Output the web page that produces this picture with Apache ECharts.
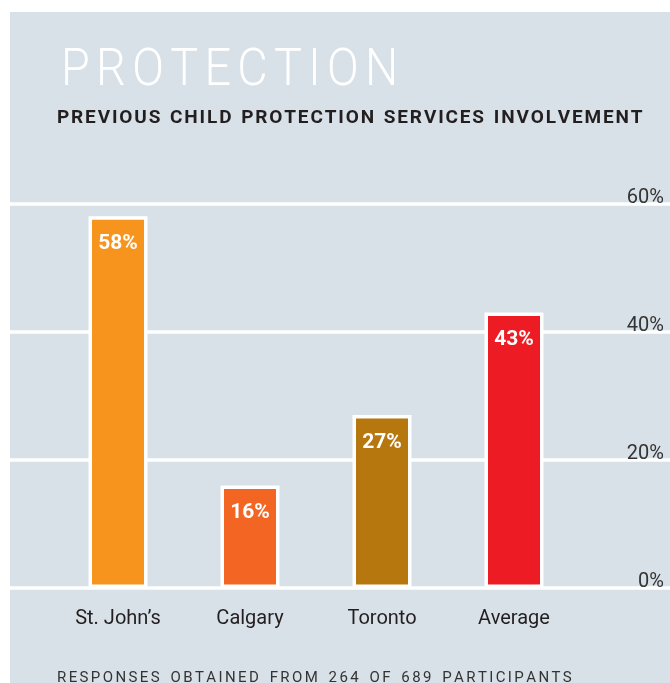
<!DOCTYPE html>
<html>
<head>
<meta charset="utf-8">
<script src="https://cdn.jsdelivr.net/npm/echarts@6/dist/echarts.min.js"></script>
<style>
  html, body { margin: 0; padding: 0; background: #fff; }
  #chart { width: 670px; height: 683px; }
</style>
</head>
<body>
<div id="chart"></div>
<script>
const cities = ["St. John\u2019s", "Calgary", "Toronto", "Average"];
const shares = [58, 16, 27, 43];
const barColors = ["#f7941d", "#f26522", "#b7770f", "#ed1c24"];
const tickValues = [0, 20, 40, 60];

const titleText = "PROTECTION";
const subtitleText = "PREVIOUS CHILD PROTECTION SERVICES INVOLVEMENT";
const footerText = "RESPONSES OBTAINED FROM 264 OF 689 PARTICIPANTS";

// letter spacing through rich text: every glyph followed by a fixed-width gap
function spaced(str) {
  return str
    .split("")
    .map(function (c) {
      return c === " " ? "{w| }" : "{a|" + c + "}";
    })
    .join("{s| }");
}

function richStyle(font, weight, size, color, gap, word) {
  return {
    a: {
      fontFamily: font,
      fontWeight: weight,
      fontSize: size,
      fill: color,
      color: color,
    },
    s: { fontSize: size, width: gap },
    w: { fontSize: size, width: word },
  };
}

const container = document.getElementById("chart");
let myChart = echarts.init(container),
  option;

const font = "Roboto";

option = {
  backgroundColor: "#ffffff",
  animation: false,
  graphic: [
    {
      type: "rect",
      x: 10,
      y: 12,
      shape: { width: 660, height: 671 },
      style: { fill: "#d8e1e8" },
      z: -10,
    },
    {
      type: "text",
      x: 61,
      y: 46,
      scaleX: 0.9,
      style: {
        text: spaced(titleText),
        rich: richStyle(font, 300, 52, "#ffffff", 7, 14),
        fill: "#ffffff",
        textVerticalAlign: "top",
      },
    },
    {
      type: "text",
      x: 57,
      y: 109,
      style: {
        text: spaced(subtitleText),
        rich: richStyle(font, "bold", 19, "#231f20", 1.85, 6),
        fill: "#231f20",
        textVerticalAlign: "top",
      },
    },
    {
      type: "text",
      x: 57,
      y: 671,
      style: {
        text: spaced(footerText),
        rich: richStyle(font, "normal", 15, "#333333", 2.4, 6),
        fill: "#333333",
        textVerticalAlign: "top",
      },
    },
  ],
  grid: [
    { left: 10, right: 0, top: 203.5, bottom: 95 },
    { left: 52, right: 90, top: 203.5, bottom: 95 },
  ],
  xAxis: [
    { type: "value", gridIndex: 0, show: false, min: 0, max: 1 },
    {
      type: "category",
      gridIndex: 1,
      data: cities,
      axisLine: { show: false },
      axisTick: { show: false },
      axisLabel: {
        margin: 21,
        fontFamily: font,
        fontSize: 20,
        color: "#231f20",
      },
    },
  ],
  yAxis: [
    {
      type: "value",
      gridIndex: 0,
      position: "right",
      min: 0,
      max: 60,
      interval: 20,
      axisLine: { show: false },
      axisTick: { show: false },
      splitLine: { lineStyle: { color: "#ffffff", width: 3.5 } },
      axisLabel: {
        inside: true,
        margin: 6,
        fontFamily: font,
        fontSize: 20,
        color: "#333333",
        verticalAlign: "bottom",
        lineHeight: 12,
        formatter: function (v) {
          return tickValues.indexOf(v) >= 0 ? v + "%" : "";
        },
      },
    },
    { type: "value", gridIndex: 1, show: false, min: 0, max: 60 },
  ],
  series: [
    {
      type: "bar",
      xAxisIndex: 1,
      yAxisIndex: 1,
      barWidth: 59,
      data: shares.map(function (v, i) {
        return { value: v, itemStyle: { color: barColors[i] } };
      }),
      itemStyle: { borderColor: "#ffffff", borderWidth: 3.5 },
      label: {
        show: true,
        position: "insideTop",
        distance: 17,
        fontFamily: font,
        fontWeight: "bold",
        fontSize: 21,
        color: "#ffffff",
        formatter: "{c}%",
      },
    },
  ],
};

if (option && typeof option === "object") {
  myChart.setOption(option);
}
window.addEventListener("resize", myChart.resize);
</script>
</body>
</html>
